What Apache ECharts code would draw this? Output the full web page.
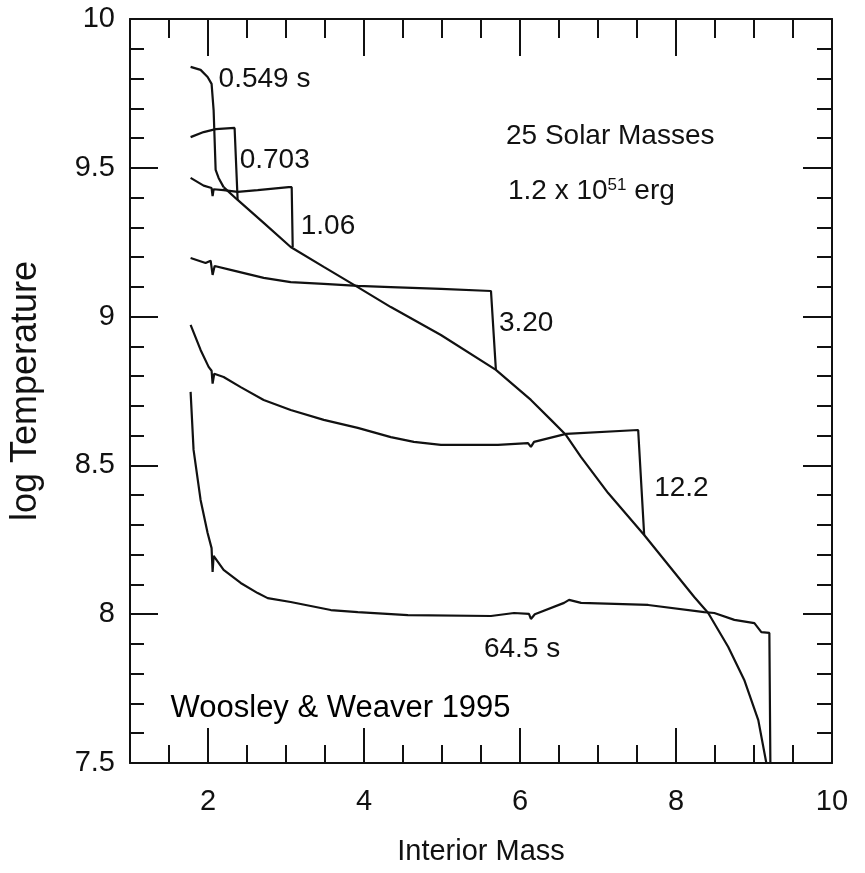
<!DOCTYPE html>
<html>
<head>
<meta charset="utf-8">
<title>log Temperature vs Interior Mass</title>
<script src="https://cdn.jsdelivr.net/npm/echarts@6/dist/echarts.min.js"></script>
<style>
  html, body { margin: 0; padding: 0; background: #fff; }
  #chart { width: 865px; height: 873px; }
</style>
</head>
<body>
<div id="chart"></div>
<script>
// curves, [interior mass, log T]
const t0549 = [[1.777, 9.839], [1.905, 9.829], [1.995, 9.805], [2.046, 9.782], [2.072, 9.694], [2.098, 9.493], [2.136, 9.466], [2.200, 9.435]]
const t0703 = [[1.777, 9.603], [1.944, 9.620], [2.098, 9.630], [2.341, 9.634], [2.380, 9.392]]
const t106 = [[1.777, 9.466], [1.944, 9.440], [2.046, 9.432], [2.059, 9.405], [2.072, 9.428], [2.200, 9.425], [2.380, 9.419], [2.637, 9.425], [3.034, 9.435], [3.073, 9.435], [3.086, 9.234]]
const t320 = [[1.777, 9.197], [1.969, 9.180], [2.034, 9.188], [2.059, 9.140], [2.085, 9.170], [2.290, 9.157], [2.714, 9.130], [3.060, 9.116], [3.484, 9.110], [3.920, 9.103], [4.344, 9.099], [4.986, 9.093], [5.628, 9.086], [5.691, 8.821]]
const t122 = [[1.777, 8.972], [1.905, 8.888], [2.008, 8.831], [2.046, 8.818], [2.059, 8.775], [2.080, 8.808], [2.200, 8.797], [2.419, 8.763], [2.714, 8.720], [3.060, 8.686], [3.484, 8.653], [3.920, 8.626], [4.344, 8.595], [4.639, 8.579], [4.986, 8.569], [5.718, 8.569], [6.103, 8.575], [6.140, 8.562], [6.180, 8.579], [6.590, 8.606], [7.515, 8.619], [7.592, 8.266]]
const t645 = [[1.777, 8.747], [1.815, 8.552], [1.905, 8.384], [1.995, 8.273], [2.046, 8.222], [2.059, 8.142], [2.072, 8.196], [2.200, 8.149], [2.419, 8.105], [2.637, 8.071], [2.765, 8.054], [3.060, 8.041], [3.574, 8.014], [3.920, 8.007], [4.562, 7.997], [5.628, 7.994], [5.923, 8.004], [6.115, 8.001], [6.140, 7.984], [6.190, 8.000], [6.565, 8.038], [6.629, 8.048], [6.783, 8.038], [7.643, 8.031], [8.362, 8.007], [8.491, 8.004], [8.748, 7.981], [9.005, 7.970], [9.094, 7.940], [9.197, 7.937], [9.210, 7.500]]
// unshocked profile that every curve drops onto
const preshock = [[2.200, 9.435], [2.380, 9.392], [2.714, 9.315], [3.060, 9.234], [3.484, 9.167], [3.920, 9.099], [4.344, 9.032], [4.986, 8.938], [5.691, 8.821], [6.140, 8.720], [6.397, 8.653], [6.590, 8.602], [6.783, 8.528], [7.130, 8.407], [7.592, 8.266], [8.234, 8.058], [8.413, 8.004], [8.670, 7.890], [8.875, 7.779], [9.055, 7.644], [9.158, 7.500]]

const xLabels = [2, 4, 6, 8, 10]
const xMajor = [2, 4, 6, 8]

// annotations (left edge, vertical middle)
const annoText = ['0.549 s', '0.703', '1.06', '3.20', '12.2', '64.5 s', '25 Solar Masses', '1.2 x 10{sup|51} erg']
const annoX = [2.136, 2.406, 3.189, 5.730, 7.720, 5.538, 5.820, 5.846]
const annoY = [9.798, 9.526, 9.304, 8.978, 8.424, 7.883, 9.605, 9.422]
const creditText = ['Woosley & Weaver 1995']
const creditX = [1.52]
const creditY = [7.683]

const sans = "'Liberation Sans', Arial, Helvetica, sans-serif"
const ink = '#111'

const chart = echarts.init(document.getElementById('chart'))

function curve(name, data) {
    return {
        name: name,
        type: 'line',
        data: data,
        showSymbol: false,
        symbol: 'none',
        silent: true,
        lineStyle: { color: ink, width: 2.2 },
        xAxisIndex: 0,
        yAxisIndex: 0
    }
}

const xBase = { type: 'value', min: 1, max: 10, splitLine: { show: false } }
const yBase = { type: 'value', min: 7.5, max: 10, interval: 0.5, splitLine: { show: false } }

const option = {
    animation: false,
    backgroundColor: '#fff',
    grid: { left: 130, right: 33, top: 19, bottom: 110 },
    xAxis: [
        Object.assign({}, xBase, {
            position: 'bottom',
            interval: 0.5,
            name: 'Interior Mass',
            nameLocation: 'middle',
            nameGap: 74,
            nameTextStyle: { color: ink, fontSize: 29, fontFamily: sans },
            axisLine: { lineStyle: { color: ink, width: 2 } },
            axisTick: { inside: true, length: 18, lineStyle: { color: ink, width: 2 } },
            axisLabel: { customValues: xLabels, color: ink, fontSize: 29, fontFamily: sans, margin: 24 }
        }),
        Object.assign({}, xBase, {
            position: 'bottom',
            axisLine: { show: false },
            axisTick: { inside: true, length: 35, customValues: xMajor, lineStyle: { color: ink, width: 2 } },
            axisLabel: { show: false }
        }),
        Object.assign({}, xBase, {
            position: 'top',
            interval: 0.5,
            axisLine: { lineStyle: { color: ink, width: 2 } },
            axisTick: { inside: true, length: 19, lineStyle: { color: ink, width: 2 } },
            axisLabel: { show: false }
        }),
        Object.assign({}, xBase, {
            position: 'top',
            axisLine: { show: false },
            axisTick: { inside: true, length: 37, customValues: xMajor, lineStyle: { color: ink, width: 2 } },
            axisLabel: { show: false }
        })
    ],
    yAxis: [
        Object.assign({}, yBase, {
            position: 'left',
            name: 'log Temperature',
            nameLocation: 'middle',
            nameRotate: 90,
            nameGap: 86,
            nameTextStyle: { color: ink, fontSize: 36, fontFamily: sans },
            axisLine: { lineStyle: { color: ink, width: 2 } },
            axisTick: { inside: true, length: 28, lineStyle: { color: ink, width: 2 } },
            minorTick: { show: true, splitNumber: 5, length: 14, lineStyle: { color: ink, width: 2 } },
            axisLabel: { color: ink, fontSize: 29, fontFamily: sans, margin: 15, showMinLabel: true, showMaxLabel: true }
        }),
        Object.assign({}, yBase, {
            position: 'right',
            axisLine: { lineStyle: { color: ink, width: 2 } },
            axisTick: { inside: true, length: 29, lineStyle: { color: ink, width: 2 } },
            minorTick: { show: true, splitNumber: 5, length: 15, lineStyle: { color: ink, width: 2 } },
            axisLabel: { show: false }
        })
    ],
    series: [
        curve('preshock', preshock),
        curve('0.549 s', t0549),
        curve('0.703', t0703),
        curve('1.06', t106),
        curve('3.20', t320),
        curve('12.2', t122),
        curve('64.5 s', t645),
        {
            name: 'annotations',
            type: 'scatter',
            symbolSize: 0,
            silent: true,
            itemStyle: { opacity: 1 },
            data: annoText.map((t, i) => [annoX[i], annoY[i], t]),
            label: {
                show: true,
                position: 'right',
                distance: 0,
                opacity: 1,
                formatter: p => p.data[2],
                color: ink,
                fontSize: 28,
                fontFamily: sans,
                rich: {
                    sup: { fontSize: 17, fontFamily: sans, color: ink, verticalAlign: 'top', lineHeight: 10 }
                }
            }
        },
        {
            name: 'credit',
            type: 'scatter',
            symbolSize: 0,
            silent: true,
            itemStyle: { opacity: 1 },
            data: creditText.map((t, i) => [creditX[i], creditY[i], t]),
            label: {
                show: true,
                position: 'right',
                distance: 0,
                opacity: 1,
                formatter: p => p.data[2],
                color: '#000',
                fontSize: 31,
                fontFamily: sans
            }
        }
    ]
}

chart.setOption(option)
</script>
</body>
</html>
